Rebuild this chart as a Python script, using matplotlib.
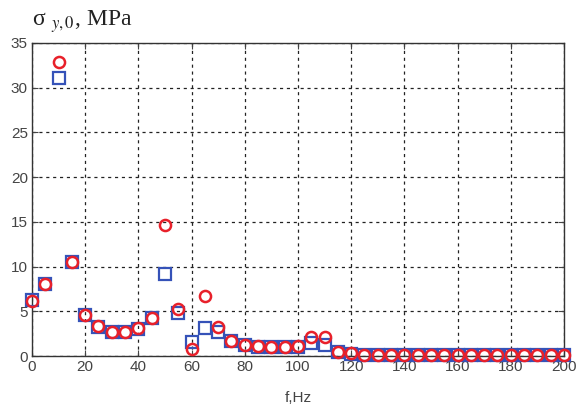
import numpy as np
import matplotlib
matplotlib.use("Agg")
from matplotlib import pyplot as plt

freq = np.arange(0, 205, 5)

# red circles
sigma_circ = [6.2, 8.0, 32.9, 10.5, 4.6, 3.3, 2.7, 2.7, 3.1, 4.3,
              14.6, 5.3, 0.8, 6.7, 3.2, 1.7, 1.2, 1.1, 1.0, 1.0,
              1.1, 2.1, 2.1, 0.4, 0.3, 0.15, 0.15, 0.15, 0.15, 0.15,
              0.15, 0.15, 0.15, 0.15, 0.15, 0.15, 0.15, 0.15, 0.15, 0.15, 0.15]

# blue squares
sigma_sq = [6.3, 8.0, 31.1, 10.5, 4.6, 3.2, 2.7, 2.7, 3.0, 4.3,
            9.2, 4.8, 1.6, 3.1, 2.7, 1.7, 1.2, 1.0, 1.0, 1.0,
            1.0, 1.45, 1.2, 0.4, 0.2, 0.1, 0.1, 0.1, 0.1, 0.1,
            0.1, 0.1, 0.1, 0.1, 0.1, 0.1, 0.1, 0.1, 0.1, 0.1, 0.1]

xticks = np.arange(0, 201, 20)
yticks = np.arange(0, 36, 5)

plt.rcParams['font.family'] = ['Liberation Sans', 'DejaVu Sans']
plt.rcParams['mathtext.fontset'] = 'stix'

fig = plt.figure(figsize=(5.8, 4.11), dpi=100)
ax = fig.add_axes([0.0552, 0.1338, 0.917, 0.7616])

ax.plot(freq, sigma_sq, "s", ms=9, mfc="none", mec="#3552b8", mew=1.6, clip_on=False, zorder=3)
ax.plot(freq, sigma_circ, "o", ms=8, mfc="none", mec="#e8202a", mew=1.8, clip_on=False, zorder=4)

ax.set_xlim(0, 200)
ax.set_ylim(0, 35)
ax.set_xticks(xticks)
ax.set_yticks(yticks)
ax.grid(True, color="#222222", linestyle=(0, (2.5, 3)), linewidth=0.9)
ax.tick_params(direction="in", length=4, labelsize=11, colors="#444444", pad=3,
               top=True, right=True)
for s in ax.spines.values():
    s.set_color("#333333")
    s.set_linewidth(1.0)

ax.set_xlabel("f,Hz", fontsize=11, color="#444444", labelpad=12)
fig.text(0.055, 0.937, "σ $_{y,0}$, MPa", fontsize=17, family="Liberation Serif",
         va="baseline", ha="left", color="#222222")

fig.savefig("out.png", dpi=100)
